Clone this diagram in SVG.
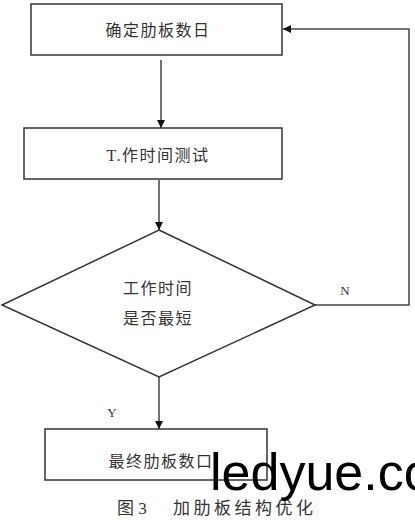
<svg xmlns="http://www.w3.org/2000/svg" width="415" height="520" viewBox="0 0 415 520">
<style>
.box{fill:#fff;stroke:#333;stroke-width:1.5}
.ln{fill:none;stroke:#444;stroke-width:1.5}
.t{font-family:"Liberation Serif","Noto Sans CJK SC",serif;font-size:16px;letter-spacing:1.5px;fill:#333;text-anchor:middle}
.s{font-family:"Liberation Serif","Noto Sans CJK SC",serif;font-size:13px;fill:#333;text-anchor:middle}
.c{font-family:"Liberation Serif","Noto Sans CJK SC",serif;font-size:17px;fill:#333}
</style>
<defs>
<marker id="ah" viewBox="0 0 10 10" refX="10" refY="5" markerWidth="8" markerHeight="8" markerUnits="userSpaceOnUse" orient="auto">
<path d="M0,0 L10,5 L0,10 z" fill="#111"/>
</marker>
</defs>
<rect width="415" height="520" fill="#fff"/>
<g id="connectors">
<line class="ln" x1="161" y1="60" x2="161" y2="128" marker-end="url(#ah)"/>
<line class="ln" x1="159" y1="180" x2="159" y2="230" marker-end="url(#ah)"/>
<line class="ln" x1="159" y1="377" x2="159" y2="429" marker-end="url(#ah)"/>
<polyline class="ln" points="315,305 409,305 409,29 283,29" marker-end="url(#ah)"/>
<text class="s" x="345" y="295">N</text>
<text class="s" x="112" y="417">Y</text>
</g>
<g id="n1">
<rect class="box" x="31" y="4" width="251" height="51"/>
<text class="t" x="158" y="36">确定肋板数日</text>
</g>
<g id="n2">
<rect class="box" x="24" y="128" width="258" height="51"/>
<text class="t" x="158" y="161">T.作时间测试</text>
</g>
<g id="n3">
<polygon class="box" points="159,230 315,305 159,377 2,305"/>
<text class="t" x="158" y="294">工作时间</text>
<text class="t" x="158" y="324">是否最短</text>
</g>
<g id="n4">
<rect class="box" x="45" y="429" width="222" height="51"/>
<text class="t" x="161" y="467">最终肋板数口</text>
</g>
<text class="c" y="514"><tspan x="117">图 3</tspan><tspan x="173" letter-spacing="3.5">加肋板结构优化</tspan></text>
<text x="210" y="490" font-family="Liberation Sans,Arial,sans-serif" font-size="52" fill="#000">ledyue.co</text>
</svg>
